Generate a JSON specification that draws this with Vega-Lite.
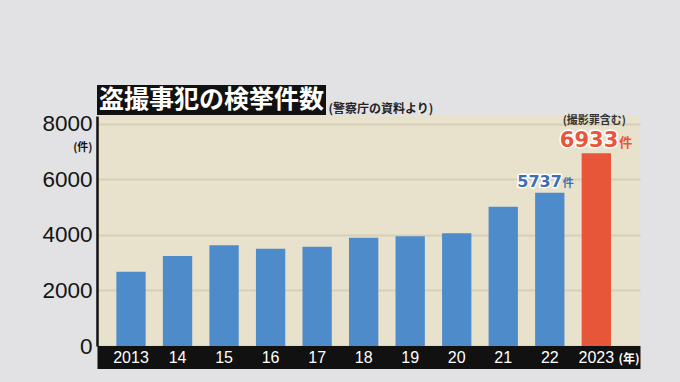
{
  "$schema": "https://vega.github.io/schema/vega-lite/v6.json",
  "background": "#e2e2e4",
  "padding": {"left": 41, "top": 85, "right": 40, "bottom": 20},
  "bounds": "flush",
  "spacing": 1,
  "datasets": {
    "bars": [
      {"year": "2013", "count": 2675},
      {"year": "14", "count": 3240},
      {"year": "15", "count": 3624},
      {"year": "16", "count": 3504},
      {"year": "17", "count": 3576},
      {"year": "18", "count": 3900},
      {"year": "19", "count": 3948},
      {"year": "20", "count": 4056},
      {"year": "21", "count": 5016},
      {"year": "22", "count": 5520},
      {"year": "2023", "count": 6936}
    ],
    "labels": [
      {"year": "22", "count": 5520, "num": "5737", "unit": "件", "note": ""},
      {"year": "2023", "count": 6936, "num": "6933", "unit": "件", "note": "(撮影罪含む)"}
    ],
    "heading": [
      {"t": "盗撮事犯の検挙件数", "s": "(警察庁の資料より)"}
    ]
  },
  "vconcat": [
    {
      "width": 229,
      "height": 30,
      "view": {"fill": "#111111", "stroke": null},
      "data": {"name": "heading"},
      "layer": [
        {
          "mark": {"type": "text", "color": "white", "font": "Noto Sans CJK JP", "fontSize": 25, "fontWeight": "bold", "baseline": "middle", "align": "center"},
          "encoding": {"text": {"field": "t"}}
        },
        {
          "mark": {"type": "text", "color": "#222222", "font": "Noto Sans CJK JP", "fontSize": 12, "fontWeight": "bold", "baseline": "middle", "align": "left", "dx": 117, "dy": 9},
          "encoding": {"text": {"field": "s"}}
        }
      ]
    },
    {
      "width": 543,
      "height": 230,
      "view": {"fill": "#e8e2cc", "stroke": null},
      "encoding": {
        "x": {
          "field": "year", "type": "nominal", "sort": null,
          "scale": {"domain": ["2013","14","15","16","17","18","19","20","21","22","2023"], "paddingInner": 0.37, "paddingOuter": 0.52, "align": 0.4},
          "axis": {
            "domainColor": "#111111", "domainWidth": 23, "offset": 11, "ticks": false, "tickSize": 0, "grid": false,
            "labels": false,
            "title": "(年)", "titleColor": "white", "titleFont": "Noto Sans CJK JP", "titleFontSize": 12, "titleFontWeight": "bold",
            "titleX": 521, "titleY": 1, "titleAlign": "left", "titleBaseline": "middle"
          }
        },
        "y": {
          "field": "count", "type": "quantitative",
          "scale": {"domain": [0, 8280], "nice": false, "zero": true},
          "axis": {
            "values": [0, 2000, 4000, 6000, 8000], "format": "d",
            "domainColor": "#111111", "domainWidth": 2.5, "ticks": false, "tickSize": 0,
            "grid": true, "gridColor": "#d7d0b8", "gridWidth": 2,
            "labelFont": "Liberation Sans", "labelFontSize": 22.5, "labelColor": "#141414", "labelPadding": 5,
            "title": "(件)", "titleAngle": 0, "titleX": -5, "titleY": 31, "titleAlign": "right", "titleBaseline": "middle",
            "titleFont": "Noto Sans CJK JP", "titleFontSize": 11, "titleFontWeight": "bold", "titleColor": "#141414"
          }
        }
      },
      "layer": [
        {
          "data": {"name": "bars"},
          "mark": {"type": "bar"},
          "encoding": {
            "color": {"condition": {"test": "datum.year == '2023'", "value": "#e8563a"}, "value": "#4e8bca"}
          }
        },
        {
          "data": {"name": "bars"},
          "mark": {"type": "text", "align": "center", "baseline": "middle", "dy": 12, "font": "Liberation Sans", "fontSize": 16, "fill": "white", "clip": false},
          "encoding": {"y": {"datum": 0}, "text": {"field": "year"}}
        },
        {
          "data": {"name": "labels"},
          "transform": [{"filter": "datum.year == '22'"}],
          "mark": {"type": "text", "align": "right", "baseline": "alphabetic", "dx": 12, "dy": -6, "font": "DejaVu Sans", "fontWeight": "bold", "fontSize": 16, "fill": "#3e6fb4", "stroke": "white", "strokeWidth": 3, "strokeJoin": "round"},
          "encoding": {"text": {"field": "num"}}
        },
        {
          "data": {"name": "labels"},
          "transform": [{"filter": "datum.year == '22'"}],
          "mark": {"type": "text", "align": "right", "baseline": "alphabetic", "dx": 12, "dy": -6, "font": "DejaVu Sans", "fontWeight": "bold", "fontSize": 16, "fill": "#3e6fb4"},
          "encoding": {"text": {"field": "num"}}
        },
        {
          "data": {"name": "labels"},
          "transform": [{"filter": "datum.year == '22'"}],
          "mark": {"type": "text", "align": "left", "baseline": "alphabetic", "dx": 13, "dy": -6, "font": "Noto Sans CJK JP", "fontWeight": "bold", "fontSize": 11, "fill": "#3e6fb4"},
          "encoding": {"text": {"field": "unit"}}
        },
        {
          "data": {"name": "labels"},
          "transform": [{"filter": "datum.year == '2023'"}],
          "mark": {"type": "text", "align": "right", "baseline": "alphabetic", "dx": 22, "dy": -6, "font": "DejaVu Sans", "fontWeight": "bold", "fontSize": 21, "fill": "#e8553a", "stroke": "white", "strokeWidth": 3, "strokeJoin": "round"},
          "encoding": {"text": {"field": "num"}}
        },
        {
          "data": {"name": "labels"},
          "transform": [{"filter": "datum.year == '2023'"}],
          "mark": {"type": "text", "align": "right", "baseline": "alphabetic", "dx": 22, "dy": -6, "font": "DejaVu Sans", "fontWeight": "bold", "fontSize": 21, "fill": "#e8553a"},
          "encoding": {"text": {"field": "num"}}
        },
        {
          "data": {"name": "labels"},
          "transform": [{"filter": "datum.year == '2023'"}],
          "mark": {"type": "text", "align": "left", "baseline": "alphabetic", "dx": 23, "dy": -6, "font": "Noto Sans CJK JP", "fontWeight": "bold", "fontSize": 13, "fill": "#e8553a"},
          "encoding": {"text": {"field": "unit"}}
        },
        {
          "data": {"name": "labels"},
          "transform": [{"filter": "datum.year == '2023'"}],
          "mark": {"type": "text", "align": "center", "baseline": "middle", "dx": -2, "dy": -32, "font": "Noto Sans CJK JP", "fontWeight": "bold", "fontSize": 11, "fill": "#333333"},
          "encoding": {"text": {"field": "note"}}
        }
      ]
    }
  ],
  "config": {"view": {"stroke": null}}
}
